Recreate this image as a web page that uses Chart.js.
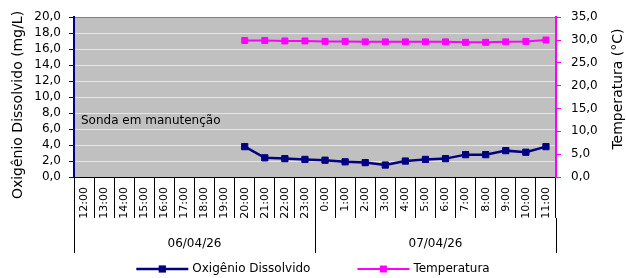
<!DOCTYPE html>
<html>
<head>
<meta charset="utf-8">
<script src="https://cdn.jsdelivr.net/npm/chart.js@4/dist/chart.umd.min.js"></script>
<style>
  html, body { margin: 0; padding: 0; background: #fff; }
  #wrap { width: 626px; height: 278px; }
</style>
</head>
<body>
<div id="wrap"><canvas id="chart" width="626" height="278"></canvas></div>
<script>
const hours = ['12:00', '13:00', '14:00', '15:00', '16:00', '17:00', '18:00', '19:00', '20:00', '21:00', '22:00', '23:00',
    '0:00', '1:00', '2:00', '3:00', '4:00', '5:00', '6:00', '7:00', '8:00', '9:00', '10:00', '11:00'];
const dates = ['06/04/26', '07/04/26'];
const oxigenio = [null, null, null, null, null, null, null, null, 3.8, 2.4, 2.3, 2.2,
    2.1, 1.9, 1.8, 1.5, 2.0, 2.2, 2.3, 2.8, 2.8, 3.3, 3.1, 3.8];
const temperatura = [null, null, null, null, null, null, null, null, 29.9, 29.9, 29.8, 29.8,
    29.7, 29.7, 29.6, 29.6, 29.6, 29.6, 29.6, 29.5, 29.5, 29.6, 29.7, 30.0];
const note = 'Sonda em manutenção';
const leftTitle = 'Oxigênio Dissolvido (mg/L)';
const rightTitle = 'Temperatura (°C)';

const FONT = "'DejaVu Sans', sans-serif";
const NAVY = '#000080';
const MAGENTA = '#ff00ff';
const fmt = (v) => v.toFixed(1).replace('.', ',');

// gray plot background, note text, rotated titles and the legend
const decor = {
    id: 'decor',
    beforeDraw(chart) {
        const {ctx, chartArea: a} = chart;
        ctx.save();
        ctx.fillStyle = '#c0c0c0';
        ctx.fillRect(a.left, a.top, a.right - a.left, a.bottom - a.top);
        ctx.restore();
    },
    afterDraw(chart) {
        const {ctx, chartArea: a, scales} = chart;
        ctx.save();
        ctx.fillStyle = '#000';
        ctx.font = '12px ' + FONT;
        ctx.textBaseline = 'middle';
        ctx.textAlign = 'left';
        ctx.fillText(note, a.left + 7, scales.y.getPixelForValue(7));

        ctx.font = '14px ' + FONT;
        ctx.textAlign = 'center';
        ctx.save();
        ctx.translate(18, 105);
        ctx.rotate(-Math.PI / 2);
        ctx.fillText(leftTitle, 0, 0);
        ctx.restore();
        ctx.save();
        ctx.translate(618, 89);
        ctx.rotate(-Math.PI / 2);
        ctx.fillText(rightTitle, 0, 0);
        ctx.restore();

        // legend
        ctx.font = '12px ' + FONT;
        ctx.textAlign = 'left';
        const lineLen = 52, textGap = 4, itemGap = 47;
        const items = chart.data.datasets.map((ds) => ({ds, w: ctx.measureText(ds.label).width}));
        const total = items.reduce((s, it) => s + lineLen + textGap + it.w, 0) + itemGap * (items.length - 1);
        let x = chart.width / 2 - total / 2;
        const y = 269;
        items.forEach(({ds, w}) => {
            ctx.strokeStyle = ds.borderColor;
            ctx.lineWidth = ds.borderWidth;
            ctx.beginPath();
            ctx.moveTo(x, y);
            ctx.lineTo(x + lineLen, y);
            ctx.stroke();
            const s = ds.pointRadius * Math.SQRT1_2 + 0.5;
            ctx.fillStyle = ds.borderColor;
            ctx.fillRect(x + lineLen / 2 - s, y - s, 2 * s, 2 * s);
            ctx.fillStyle = '#000';
            ctx.fillText(ds.label, x + lineLen + textGap, y);
            x += lineLen + textGap + w + itemGap;
        });
        ctx.restore();
    }
};

new Chart(document.getElementById('chart'), {
    type: 'line',
    data: {
        labels: hours,
        datasets: [
            {
                label: 'Oxigênio Dissolvido',
                data: oxigenio,
                yAxisID: 'y',
                borderColor: NAVY,
                backgroundColor: NAVY,
                borderWidth: 2.5,
                pointStyle: 'rect',
                pointRadius: 4.4,
                pointBorderWidth: 1,
                pointHoverRadius: 4.4,
                tension: 0,
            },
            {
                label: 'Temperatura',
                data: temperatura,
                yAxisID: 'y1',
                borderColor: MAGENTA,
                backgroundColor: MAGENTA,
                borderWidth: 2,
                pointStyle: 'rect',
                pointRadius: 4.2,
                pointBorderWidth: 1,
                pointHoverRadius: 4.2,
                tension: 0,
            },
        ],
    },
    options: {
        responsive: false,
        animation: false,
        layout: {
            padding: {left: 0, right: 0, top: 14, bottom: 25},
        },
        plugins: {
            legend: {display: false},
            tooltip: {enabled: false},
        },
        scales: {
            x: {
                type: 'category',
                position: 'bottom',
                offset: true,
                weight: 0,
                grid: {
                    offset: true,
                    drawOnChartArea: false,
                    tickLength: 41,
                    color: '#000',
                },
                border: {color: '#000', width: 1},
                ticks: {
                    autoSkip: false,
                    minRotation: 90,
                    maxRotation: 90,
                    padding: -31,
                    color: '#000',
                    font: {family: FONT, size: 11},
                },
                afterFit: (s) => { s.height = 41; },
            },
            x2: {
                type: 'category',
                labels: dates,
                position: 'bottom',
                offset: true,
                weight: 1,
                grid: {
                    offset: true,
                    drawOnChartArea: false,
                    tickLength: 35,
                    color: '#000',
                },
                border: {display: false},
                ticks: {
                    maxRotation: 0,
                    padding: -16,
                    color: '#000',
                    font: {family: FONT, size: 12},
                },
                afterFit: (s) => { s.height = 35; },
            },
            y: {
                position: 'left',
                min: 0,
                max: 20,
                grid: {
                    color: (c) => c.tick.value === 20 ? '#808080' : (c.tick.value === 0 ? '#000' : '#e6e6e6'),
                    tickColor: NAVY,
                    tickLength: 5,
                },
                border: {color: NAVY, width: 2},
                ticks: {
                    stepSize: 2,
                    autoSkip: false,
                    padding: 8,
                    color: '#000',
                    font: {family: FONT, size: 12},
                    callback: (v) => fmt(v),
                },
                afterFit: (s) => { s.width = 74; },
            },
            y1: {
                position: 'right',
                min: 0,
                max: 35,
                grid: {
                    drawOnChartArea: false,
                    tickColor: MAGENTA,
                    tickLength: 5,
                },
                border: {color: MAGENTA, width: 2},
                ticks: {
                    stepSize: 5,
                    autoSkip: false,
                    padding: 10,
                    color: '#000',
                    font: {family: FONT, size: 12},
                    callback: (v) => fmt(v),
                },
                afterFit: (s) => { s.width = 70; },
            },
        },
    },
    plugins: [decor],
});
</script>
</body>
</html>
